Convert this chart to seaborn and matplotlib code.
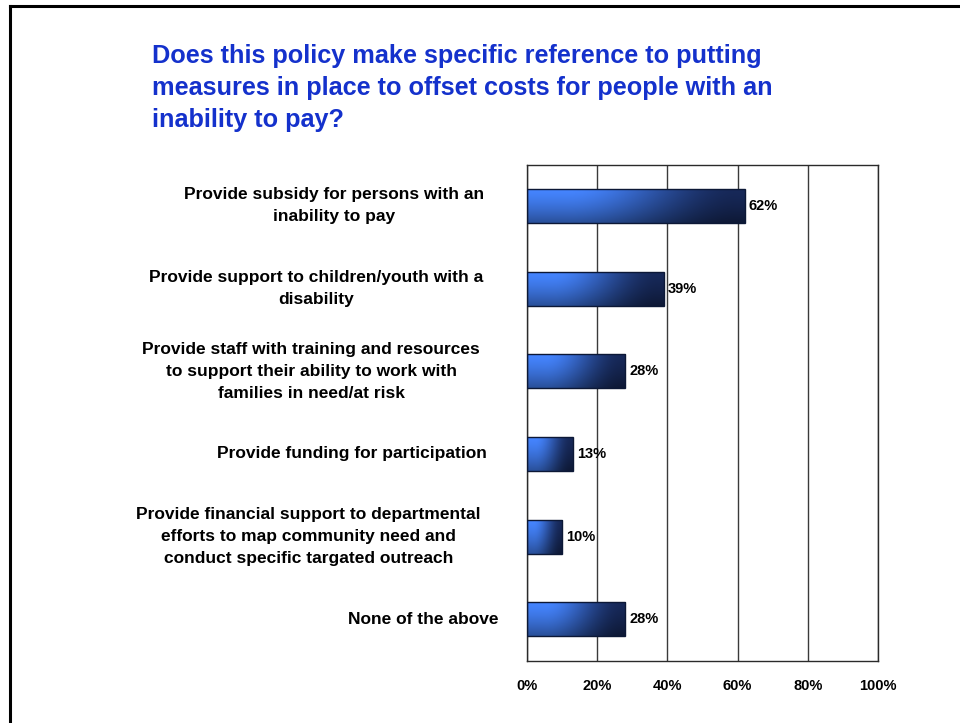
import numpy as np
import pandas as pd
import matplotlib
matplotlib.use("Agg")
import matplotlib.pyplot as plt
import seaborn as sns
from matplotlib.transforms import blended_transform_factory, offset_copy
from matplotlib.lines import Line2D

# ---- data -------------------------------------------------------------
title_lines = [
    "Does this policy make specific reference to putting",
    "measures in place to offset costs for people with an",
    "inability to pay?",
]
categories = [
    "Provide subsidy for persons with an\ninability to pay",
    "Provide support to children/youth with a\ndisability",
    "Provide staff with training and resources\nto support their ability to work with\nfamilies in need/at risk",
    "Provide funding for participation",
    "Provide financial support to departmental\nefforts to map community need and\nconduct specific targated outreach",
    "None of the above",
]
shares = [62, 39, 28, 13, 10, 28]
xticks = [0, 20, 40, 60, 80, 100]
xtick_labels = ["0%", "20%", "40%", "60%", "80%", "100%"]

# ---- style ------------------------------------------------------------
sns.set_theme(style="white")
plt.rcParams["font.family"] = ["Liberation Sans", "DejaVu Sans"]

W, H = 960, 723
fig = plt.figure(figsize=(W / 100, H / 100), dpi=100)
fig.patch.set_facecolor("white")

# frame lines along the top and left of the slide
fig.add_artist(Line2D([10 / W, 10 / W], [0, 1 - 5.5 / H], transform=fig.transFigure,
                      color="black", lw=2.2, solid_capstyle="projecting"))
fig.add_artist(Line2D([10 / W, 1], [1 - 5.5 / H, 1 - 5.5 / H], transform=fig.transFigure,
                      color="black", lw=2.2, solid_capstyle="projecting"))

# title
title_color = "#1431cc"
for i, line in enumerate(title_lines):
    fig.text(152 / W, 1 - (56 + 32 * i) / H, line, ha="left", va="center",
             fontsize=18.2, fontweight="bold", color=title_color)

# ---- plot area --------------------------------------------------------
ax_l, ax_r, ax_t, ax_b = 527, 878, 164.5, 660.7
ax = fig.add_axes([ax_l / W, 1 - ax_b / H, (ax_r - ax_l) / W, (ax_b - ax_t) / H])

df = pd.DataFrame({"category": categories, "share": shares})
sns.barplot(data=df, x="share", y="category", orient="h", ax=ax,
            width=0.41, color="#2f5fc0", edgecolor="#0c1836", linewidth=1.0,
            saturation=1)

# shaded fill for each bar: bright blue on the left fading to navy,
# darker towards the bottom edge
nx, ny = 256, 64
tx = np.linspace(0, 1, nx)
ty = np.linspace(0, 1, ny)
light = np.array([0.27, 0.52, 1.00])
dark = np.array([0.09, 0.16, 0.35])
s = np.clip((tx - 0.18) / 0.78, 0, 1)
s = s * s * (3 - 2 * s)
row = light[None, :] * (1 - s)[:, None] + dark[None, :] * s[:, None]
shade = 1.0 - 0.40 * ty ** 1.4
grad = np.clip(row[None, :, :] * shade[:, None, None], 0, 1)

for p in list(ax.patches):
    x0, y0 = p.get_x(), p.get_y()
    w, h = p.get_width(), p.get_height()
    im = ax.imshow(grad, extent=[x0, x0 + w, y0 + h, y0], origin="upper",
                   aspect="auto", interpolation="bilinear", zorder=2)
    im.set_clip_path(p)
    p.set_facecolor("none")
    p.set_zorder(3)

ax.set_xlim(0, 100)
ax.set_ylim(len(categories) - 0.5, -0.5)

# value labels at bar ends
for i, v in enumerate(shares):
    ax.text(v, i, f"{v}%", transform=offset_copy(ax.transData, fig=fig, x=4, y=0, units="dots"),
            ha="left", va="center", fontsize=10.5, fontweight="bold", color="black", zorder=4)

# grid and frame
ax.set_xticks(xticks)
ax.set_xticklabels(xtick_labels, fontsize=10.5, fontweight="bold", color="black")
ax.tick_params(axis="x", length=0, pad=13)
ax.xaxis.grid(True, color="#3a3a3a", lw=1.0)
ax.set_axisbelow(True)
for sp in ax.spines.values():
    sp.set_visible(True)
    sp.set_color("#2a2a2a")
    sp.set_linewidth(1.0)
ax.set_xlabel("")
ax.set_ylabel("")

# category labels, centred lines, right edge left of the plot
ax.set_yticks(range(len(categories)))
ax.set_yticklabels([])
ax.tick_params(axis="y", length=0)
right_edges = [484, 483, 480, 487, 481, 499]
trans = blended_transform_factory(ax.transAxes, ax.transData)
for i, (lab, rx) in enumerate(zip(categories, right_edges)):
    ax.text(0, i, lab, transform=offset_copy(trans, fig=fig, x=rx - ax_l, y=0, units="dots"),
            ha="right", va="center", multialignment="center", fontsize=12.5,
            fontweight="bold", color="black", linespacing=1.6)

fig.savefig("out.png", dpi=100, facecolor="white")
